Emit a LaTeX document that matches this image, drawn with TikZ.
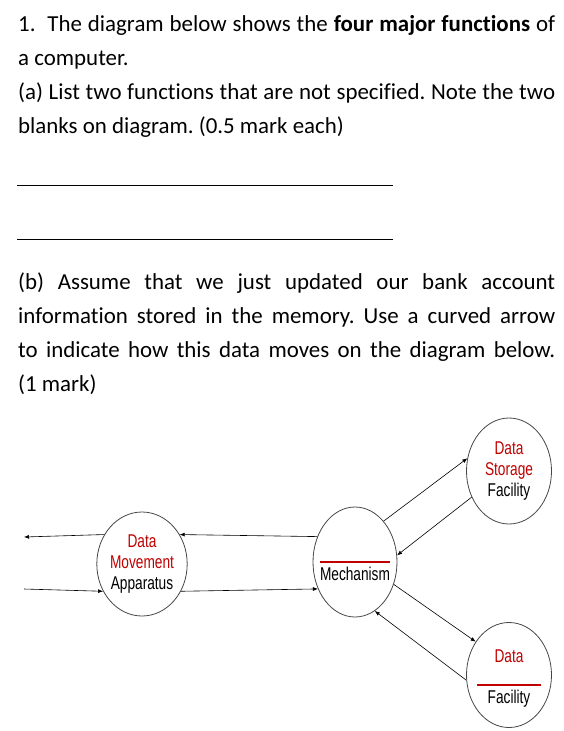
\documentclass[tikz,border=0pt]{standalone}
\usepackage{fontspec}
\setmainfont{Carlito}[Ligatures=NoCommon]
\newfontfamily\diagfont[FakeStretch=0.74]{Liberation Sans}
\usepackage{xcolor}
\usetikzlibrary{arrows.meta,shapes.geometric}
\definecolor{dred}{RGB}{192,0,0}
\definecolor{rim}{RGB}{70,70,70}
\newcommand{\qline}[1]{\makebox[537pt][s]{#1}}
\frenchspacing

\begin{document}
\begin{tikzpicture}[x=1pt,y=-1pt,
    txt/.style={anchor=base west,inner sep=0pt,font=\fontsize{22.9}{34}\selectfont},
    func/.style={draw=rim,line width=0.8pt,ellipse,inner sep=0pt,align=center,
      font=\diagfont\fontsize{18.5}{20.8}\selectfont},
    lbl/.style={inner sep=0pt,anchor=base,font=\diagfont\fontsize{18.5}{20.8}\selectfont},
    flow/.style={draw,line width=0.6pt,-{Latex[length=5pt,width=4pt]}},
    blank/.style={draw=dred,line width=2pt}]
  \useasboundingbox (0,0) rectangle (564,731);
  % question text
  \node[txt] (q1) at (18,31) {\qline{1.\ \ The diagram below shows the \textbf{four major functions} of}};
  \node[txt] (q2) at (18,65) {a computer.};
  \node[txt] (q3) at (18,99) {\qline{(a) List two functions that are not specified. Note the two}};
  \node[txt] (q4) at (18,133) {blanks on diagram. (0.5 mark each)};
  \draw[line width=1pt] (17,185) -- (393,185);
  \draw[line width=1pt] (17,239) -- (393,239);
  \node[txt] (b1) at (18,289) {\qline{(b) Assume that we just updated our bank account}};
  \node[txt] (b2) at (18,323) {\qline{information stored in the memory. Use a curved arrow}};
  \node[txt] (b3) at (18,357) {\qline{to indicate how this data moves on the diagram below.}};
  \node[txt] (b4) at (18,391) {(1 mark)};
  % the four functions
  \node[func,minimum width=82pt,minimum height=104pt] (mov) at (142,564)
    {\textcolor{dred}{Data}\\\textcolor{dred}{Movement}\\Apparatus};
  \node[func,minimum width=84pt,minimum height=110pt] (mech) at (355,562) {};
  \node[func,minimum width=85pt,minimum height=106pt] (stor) at (509,471)
    {\textcolor{dred}{Data}\\\textcolor{dred}{Storage}\\Facility};
  \node[func,minimum width=85pt,minimum height=105pt] (fac) at (509,675) {};
  \draw[blank] (320,562) -- (390,562);
  \node[lbl] (mechname) at (355,580) {Mechanism};
  \node[lbl,text=dred] (facdata) at (509,662) {Data};
  \draw[blank] (477,685) -- (541,685);
  \node[lbl] (facname) at (509,703) {Facility};
  % flows
  \coordinate (outL) at (24,537);
  \coordinate (inL) at (24,589);
  \draw[flow] (mov.142) -- (outL);
  \draw[flow] (inL) -- (mov.215);
  \draw[flow] (mech.146) -- (mov.38);
  \draw[flow] (mov.-35) -- (mech.216);
  \draw[flow] (mech.55) -- (stor.163);
  \draw[flow] (stor.215) -- (mech.9);
  \draw[flow] (mech.-30) -- (fac.135);
  \draw[flow] (fac.187) -- (mech.-68);
\end{tikzpicture}
\end{document}
